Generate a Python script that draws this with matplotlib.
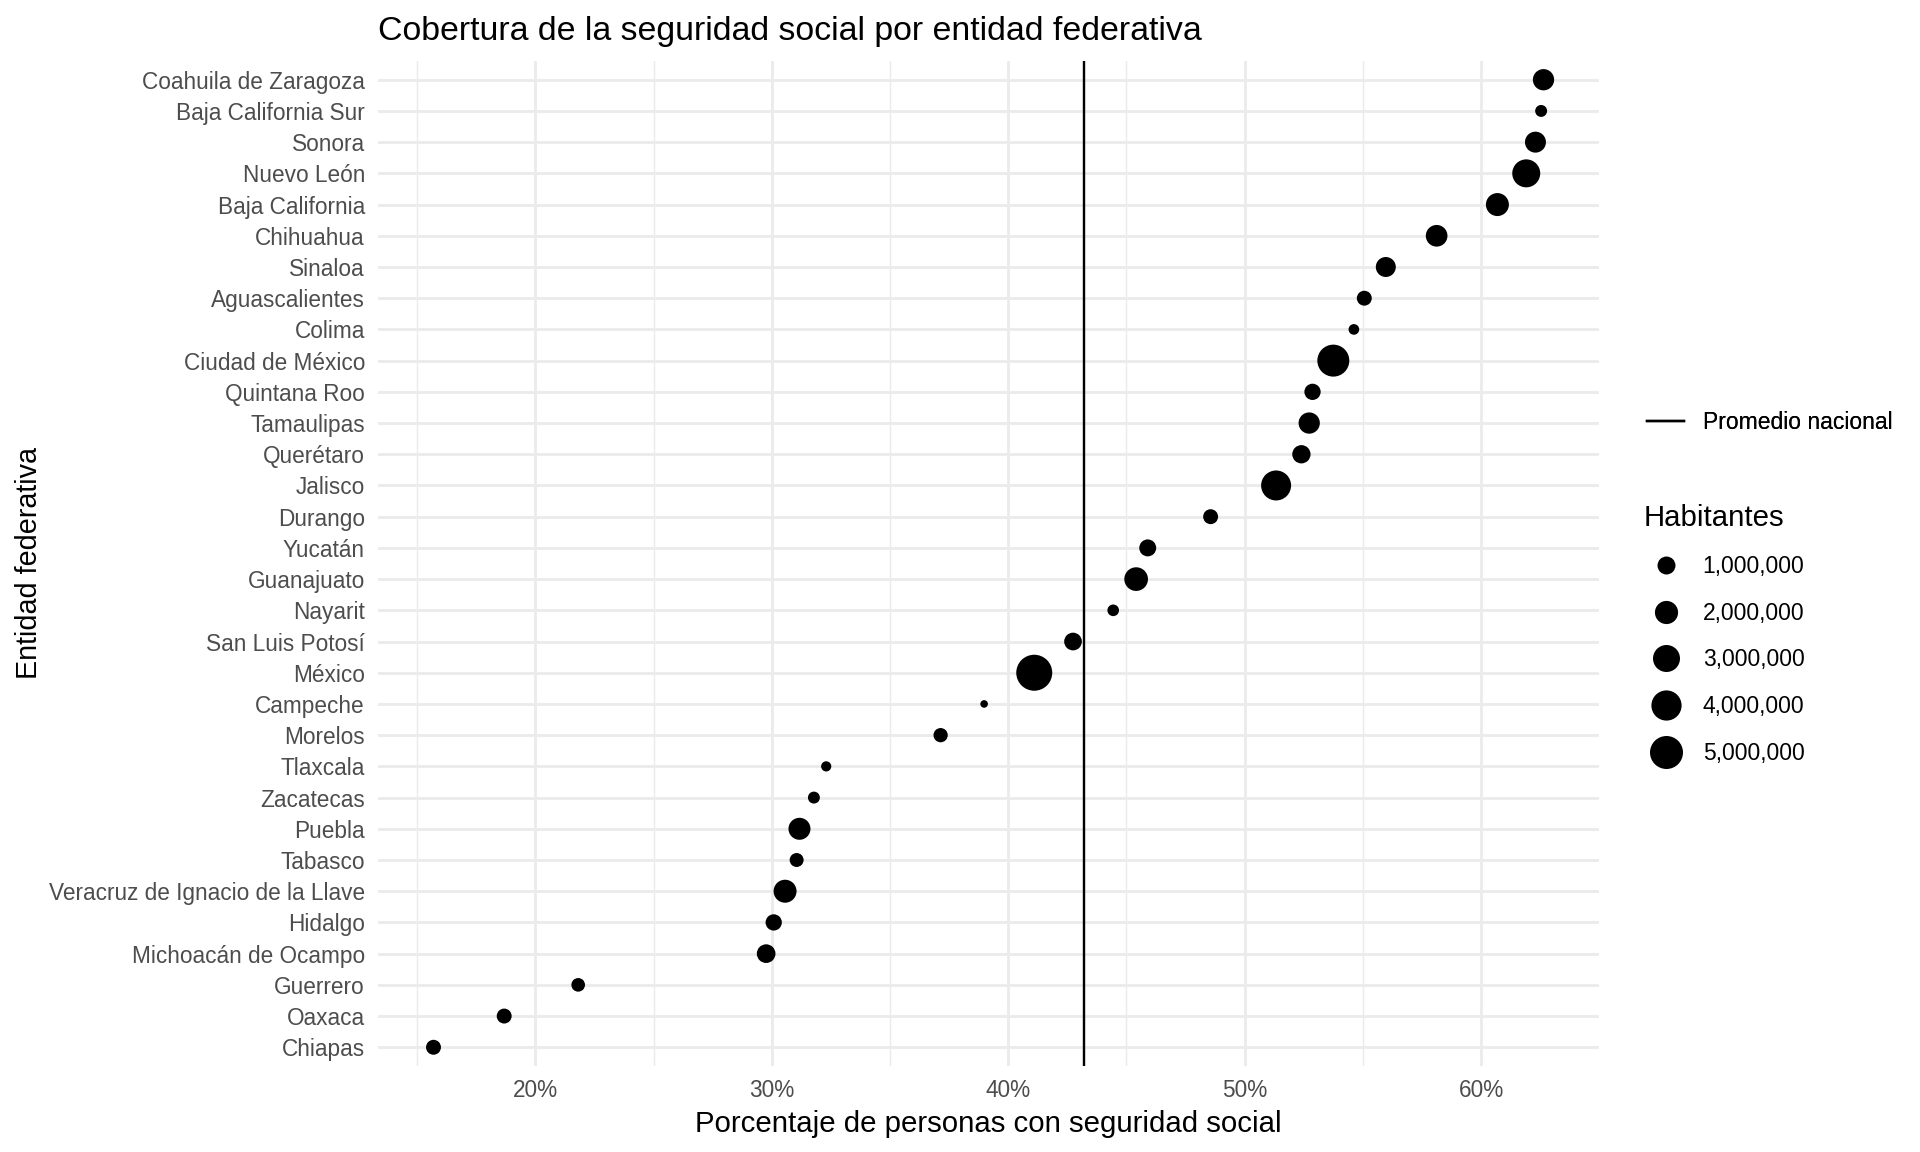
import matplotlib
matplotlib.use("Agg")
import matplotlib.pyplot as plt
from matplotlib.lines import Line2D
from matplotlib.ticker import PercentFormatter, FixedLocator
import numpy as np

# datos, de arriba hacia abajo
entidades = [
    "Coahuila de Zaragoza", "Baja California Sur", "Sonora", "Nuevo León",
    "Baja California", "Chihuahua", "Sinaloa", "Aguascalientes", "Colima",
    "Ciudad de México", "Quintana Roo", "Tamaulipas", "Querétaro", "Jalisco",
    "Durango", "Yucatán", "Guanajuato", "Nayarit", "San Luis Potosí", "México",
    "Campeche", "Morelos", "Tlaxcala", "Zacatecas", "Puebla", "Tabasco",
    "Veracruz de Ignacio de la Llave", "Hidalgo", "Michoacán de Ocampo",
    "Guerrero", "Oaxaca", "Chiapas",
]
cobertura = [
    62.64, 62.54, 62.30, 61.91, 60.69, 58.12, 55.97, 55.06, 54.62, 53.75,
    52.87, 52.73, 52.40, 51.33, 48.56, 45.90, 45.41, 44.44, 42.74, 41.10,
    38.98, 37.14, 32.30, 31.78, 31.17, 31.05, 30.56, 30.08, 29.76,
    21.81, 18.68, 15.69,
]
habitantes = [
    1590000, 340000, 1530000, 3290000, 1960000, 1670000, 1340000, 600000,
    270000, 4620000, 760000, 1590000, 1050000, 3930000, 600000, 850000,
    2120000, 320000, 960000, 6200000, 200000, 530000, 250000, 340000,
    1740000, 500000, 1960000, 760000, 1110000, 470000, 600000, 600000,
]
promedio_nacional = 43.22
leyenda_valores = [1000000, 2000000, 3000000, 4000000, 5000000]
leyenda_textos = ["1,000,000", "2,000,000", "3,000,000", "4,000,000", "5,000,000"]

plt.rcParams['font.family'] = ['Liberation Sans', 'DejaVu Sans']

W, H = 1920, 1152
fig = plt.figure(figsize=(10, 6), dpi=192)
# panel en pixeles: x 378..1599, y 61..1066
ax = fig.add_axes([378 / W, 1 - 1066 / H, (1599 - 378) / W, (1066 - 61) / H])

# tamaño tipo ggplot: diametro lineal en sqrt del valor reescalado
D_MIN, D_MAX = 2.85, 13.5
hmin, hmax = min(habitantes), max(habitantes)

def diametro(v):
    t = (np.asarray(v, float) - hmin) / (hmax - hmin)
    return D_MIN + (D_MAX - D_MIN) * np.sqrt(np.clip(t, 0, 1))

grid_col = "#EBEBEB"
ax.scatter(cobertura, entidades, s=diametro(habitantes) ** 2, c="black",
           linewidths=0, zorder=3)
ax.axvline(promedio_nacional, color="black", lw=0.9, zorder=2)

n = len(entidades)
ax.set_ylim(n - 1 + 0.6, -0.6)
lo, hi = min(cobertura), max(cobertura)
pad = 0.05 * (hi - lo)
ax.set_xlim(lo - pad, hi + pad)

ax.xaxis.set_major_locator(FixedLocator([20, 30, 40, 50, 60]))
ax.xaxis.set_minor_locator(FixedLocator([15, 25, 35, 45, 55, 65]))
ax.xaxis.set_major_formatter(PercentFormatter(decimals=0))
ax.grid(which="major", color=grid_col, lw=1.07)
ax.grid(which="minor", axis="x", color=grid_col, lw=0.53)
ax.set_axisbelow(True)
for s in ax.spines.values():
    s.set_visible(False)
ax.tick_params(which="both", length=0, labelsize=8.5, labelcolor="#4D4D4D", pad=4.9)

fig.text(378 / W, 1 - 31.5 / H, "Cobertura de la seguridad social por entidad federativa",
         ha="left", va="center", fontsize=12.7, color="black")
fig.text((378 + 1599) / 2 / W, 1 - 1124 / H, "Porcentaje de personas con seguridad social",
         ha="center", va="center", fontsize=11)
fig.text(29 / W, 1 - 563 / H, "Entidad federativa", rotation=90,
         ha="center", va="center", fontsize=10.8)

# leyendas
h_linea = [Line2D([], [], color="black", lw=0.9)]
leg1 = fig.legend(h_linea, ["Promedio nacional"], loc="center left",
                  bbox_to_anchor=(1647 / W, 1 - 422.5 / H), bbox_transform=fig.transFigure,
                  frameon=False, fontsize=8.6, borderpad=0, borderaxespad=0,
                  handlelength=1.61, handletextpad=0.83)

h_tam = [Line2D([], [], marker="o", ls="none", markersize=d, markerfacecolor="black",
                markeredgewidth=0) for d in diametro(leyenda_valores)]
leg2 = fig.legend(h_tam, leyenda_textos, title="Habitantes", loc="upper left",
                  bbox_to_anchor=(1644 / W, 1 - 503.5 / H), bbox_transform=fig.transFigure,
                  frameon=False, fontsize=8.6, title_fontsize=11, alignment="left",
                  borderpad=0, borderaxespad=0, handlelength=1.91, handletextpad=0.65,
                  labelspacing=1.03)
fig.add_artist(leg1)

fig.savefig("out.png", dpi=192, facecolor="white")
